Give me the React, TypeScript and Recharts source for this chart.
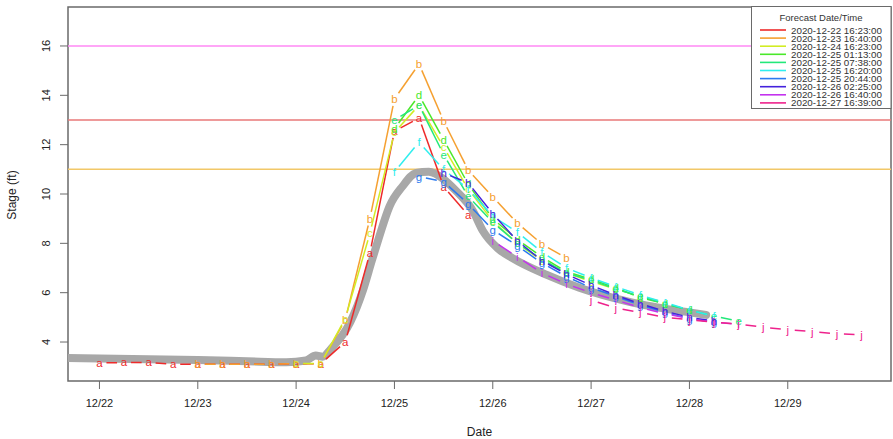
import React from 'react';
import { ComposedChart, Line, XAxis, YAxis, ReferenceLine, ReferenceArea, Label } from 'recharts';

// x values are days since 2020-12-22 00:00
const dayTicks = [0, 1, 2, 3, 4, 5, 6, 7];
const dayLabels = ['12/22', '12/23', '12/24', '12/25', '12/26', '12/27', '12/28', '12/29'];
const stageTicks = [4, 6, 8, 10, 12, 14, 16];

const obsDays = [-0.32, 0, 0.5, 1.0, 1.5, 1.9, 2.1, 2.2, 2.27, 2.35, 2.55, 2.68, 2.77, 2.84, 2.95, 3.08, 3.22, 3.35, 3.5, 3.62, 3.8, 3.9, 4.05, 4.2, 4.55, 4.88, 5.4, 6.0, 6.17];
const obsStage = [3.35, 3.33, 3.3, 3.27, 3.22, 3.18, 3.25, 3.45, 3.4, 3.7, 4.8, 6.1, 7.3, 8.2, 9.5, 10.3, 10.85, 10.9, 10.6, 10.15, 9.3, 8.5, 7.8, 7.4, 6.72, 6.2, 5.62, 5.2, 5.1];

const fcNames = [
  '2020-12-22 16:23:00', '2020-12-23 16:40:00', '2020-12-24 16:23:00', '2020-12-25 01:13:00',
  '2020-12-25 07:38:00', '2020-12-25 16:20:00', '2020-12-25 20:44:00', '2020-12-26 02:25:00',
  '2020-12-26 16:40:00', '2020-12-27 16:39:00',
];
const fcLetters = ['a', 'b', 'c', 'd', 'e', 'f', 'g', 'h', 'i', 'j'];
const fcColors = ['#ee2a2a', '#f5a030', '#d2ec24', '#4ae82a', '#22e87a', '#30eeee', '#2c7af0', '#4422dc', '#c432ee', '#ee228c'];
// first 6-hourly step of each forecast trace
const fcStart = [0, 1, 2, 3, 3, 3, 3.25, 3.5, 4, 5];
const fcStep = 0.25;

const fcA = [3.15, 3.17, 3.17, 3.1, 3.1, 3.1, 3.1, 3.1, 3.12, 3.12, 4.0, 7.6, 12.55, 13.08, 10.3, 9.15];
const fcB = [3.1, 3.1, 3.1, 3.1, 3.12, 3.12, 4.9, 9.0, 13.85, 15.27, 12.96, 10.97, 9.88, 8.82, 7.97, 7.4];
const fcC = [3.13, 3.13, 4.95, 8.4, 12.5, 13.6, 11.9, 10.2, 8.9, 8.0, 7.3, 6.8, 6.45, 6.15, 5.85, 5.6];
const fcD = [12.65, 14.0, 12.2, 10.4, 9.0, 8.15, 7.45, 6.85, 6.55, 6.2, 5.8, 5.55, 5.3];
const fcE = [13.0, 13.6, 11.6, 9.9, 8.85, 8.0, 7.35, 6.8, 6.5, 6.15, 5.85, 5.55, 5.3, 5.05, 4.85];
const fcF = [10.9, 12.1, 11.0, 10.2, 9.1, 8.45, 7.65, 7.0, 6.6, 6.25, 5.9, 5.6, 5.3, 5.05];
const fcG = [10.7, 10.5, 9.6, 8.55, 7.9, 7.2, 6.65, 6.2, 5.85, 5.5, 5.2, 4.95, 4.8];
const fcH = [10.85, 10.45, 9.2, 8.1, 7.3, 6.75, 6.3, 5.9, 5.55, 5.25, 5.0, 4.85];
const fcI = [8.1, 7.45, 6.8, 6.35, 6.0, 5.7, 5.4, 5.15, 4.95, 4.8, 4.72];
const fcJ = [5.7, 5.38, 5.2, 5.0, 4.9, 4.8, 4.73, 4.6, 4.5, 4.42, 4.33, 4.3];
const fcValues = [fcA, fcB, fcC, fcD, fcE, fcF, fcG, fcH, fcI, fcJ];

const floodLevels = [16, 13, 11];
const floodColors = ['#ff88f4', '#e87878', '#f2c868'];

const font = '"Liberation Sans", Arial, sans-serif';
const frame = '#6a6a6a';

const obsData = obsDays.map((d, i) => ({ d, v: obsStage[i] }));
const fcData = fcValues.map((vals, k) => vals.map((v, i) => ({ d: fcStart[k] + i * fcStep, v })));

// R type="b": letter at each point, line segments with a gap around the letters
const letterDot = (letter: string, color: string) => (props: any) => {
  const { cx, cy, index, points } = props;
  const gap = 7;
  let seg = null;
  const next = points && points[index + 1];
  if (next) {
    const dx = next.x - cx;
    const dy = next.y - cy;
    const len = Math.hypot(dx, dy);
    if (len > 2 * gap) {
      const ux = dx / len;
      const uy = dy / len;
      seg = (
        <line x1={cx + ux * gap} y1={cy + uy * gap} x2={next.x - ux * gap} y2={next.y - uy * gap}
          stroke={color} strokeWidth={1.5} />
      );
    }
  }
  return (
    <g key={`${letter}-${index}`}>
      {seg}
      <text x={cx} y={cy} textAnchor="middle" dominantBaseline="central" fill={color}
        fontSize={11.5} fontFamily={font}>{letter}</text>
    </g>
  );
};

const StageTick = (props: any) => {
  const { x, y, payload } = props;
  return (
    <text transform={`translate(${x - 12},${y}) rotate(-90)`} textAnchor="middle" dominantBaseline="central"
      fontSize={11} fontFamily={font} fill="#222">{payload.value}</text>
  );
};

const ForecastLegend = () => (
  <svg width={141} height={104} style={{ position: 'absolute', left: 751, top: 6 }}>
    <rect x={0.5} y={0.5} width={139.5} height={102} fill="#fff" stroke={frame} strokeWidth={1} />
    <text x={70} y={11} textAnchor="middle" dominantBaseline="central" fontSize={9.5} fontFamily={font} fill="#333">
      Forecast Date/Time
    </text>
    {fcNames.map((name, k) => (
      <g key={name}>
        <line x1={9} x2={35} y1={24 + k * 8.1} y2={24 + k * 8.1} stroke={fcColors[k]} strokeWidth={1.6} />
        <text x={40} y={24 + k * 8.1} dominantBaseline="central" fontSize={9.8} fontFamily={font} fill="#333">{name}</text>
      </g>
    ))}
  </svg>
);

export default function App() {
  return (
    <div style={{ position: 'absolute', left: 0, top: 0, width: 893, height: 439, background: '#fff' }}>
      <ComposedChart width={893} height={439} margin={{ top: 7, right: 2, left: 0, bottom: 0 }}>
        <XAxis dataKey="d" type="number" domain={[-0.32, 8.05]} allowDataOverflow ticks={dayTicks}
          tickFormatter={(v: number) => dayLabels[dayTicks.indexOf(v)]} height={58} axisLine={false}
          tickSize={8} tickMargin={10} tickLine={{ stroke: frame }} tick={{ fontSize: 11, fill: '#222', fontFamily: font }}>
          <Label content={() => (
            <text x={479.5} y={432} textAnchor="middle" dominantBaseline="central" fontSize={12} fontFamily={font} fill="#222">Date</text>
          )} />
        </XAxis>
        <YAxis type="number" domain={[2.42, 17.58]} allowDataOverflow ticks={stageTicks} width={68}
          axisLine={false} tickSize={8} tickLine={{ stroke: frame }} tick={<StageTick />}>
          <Label content={() => (
            <text transform="translate(12,195) rotate(-90)" textAnchor="middle" dominantBaseline="central"
              fontSize={12} fontFamily={font} fill="#222">Stage (ft)</text>
          )} />
        </YAxis>
        {floodLevels.map((lv, k) => (
          <ReferenceLine key={lv} y={lv} stroke={floodColors[k]} strokeWidth={1.5} />
        ))}
        <Line data={obsData} dataKey="v" type="monotone" stroke="#a8a8a8" strokeWidth={8} dot={false}
          strokeLinejoin="round" strokeLinecap="round" isAnimationActive={false} />
        {fcData.map((data, k) => (
          <Line key={fcLetters[k]} data={data} dataKey="v" stroke="none" isAnimationActive={false}
            dot={letterDot(fcLetters[k], fcColors[k])} activeDot={false} />
        ))}
        <ReferenceArea x1={-0.32} x2={8.05} y1={2.42} y2={17.58} fill="none" stroke={frame} strokeWidth={1.5} ifOverflow="visible" />
      </ComposedChart>
      <ForecastLegend />
    </div>
  );
}
